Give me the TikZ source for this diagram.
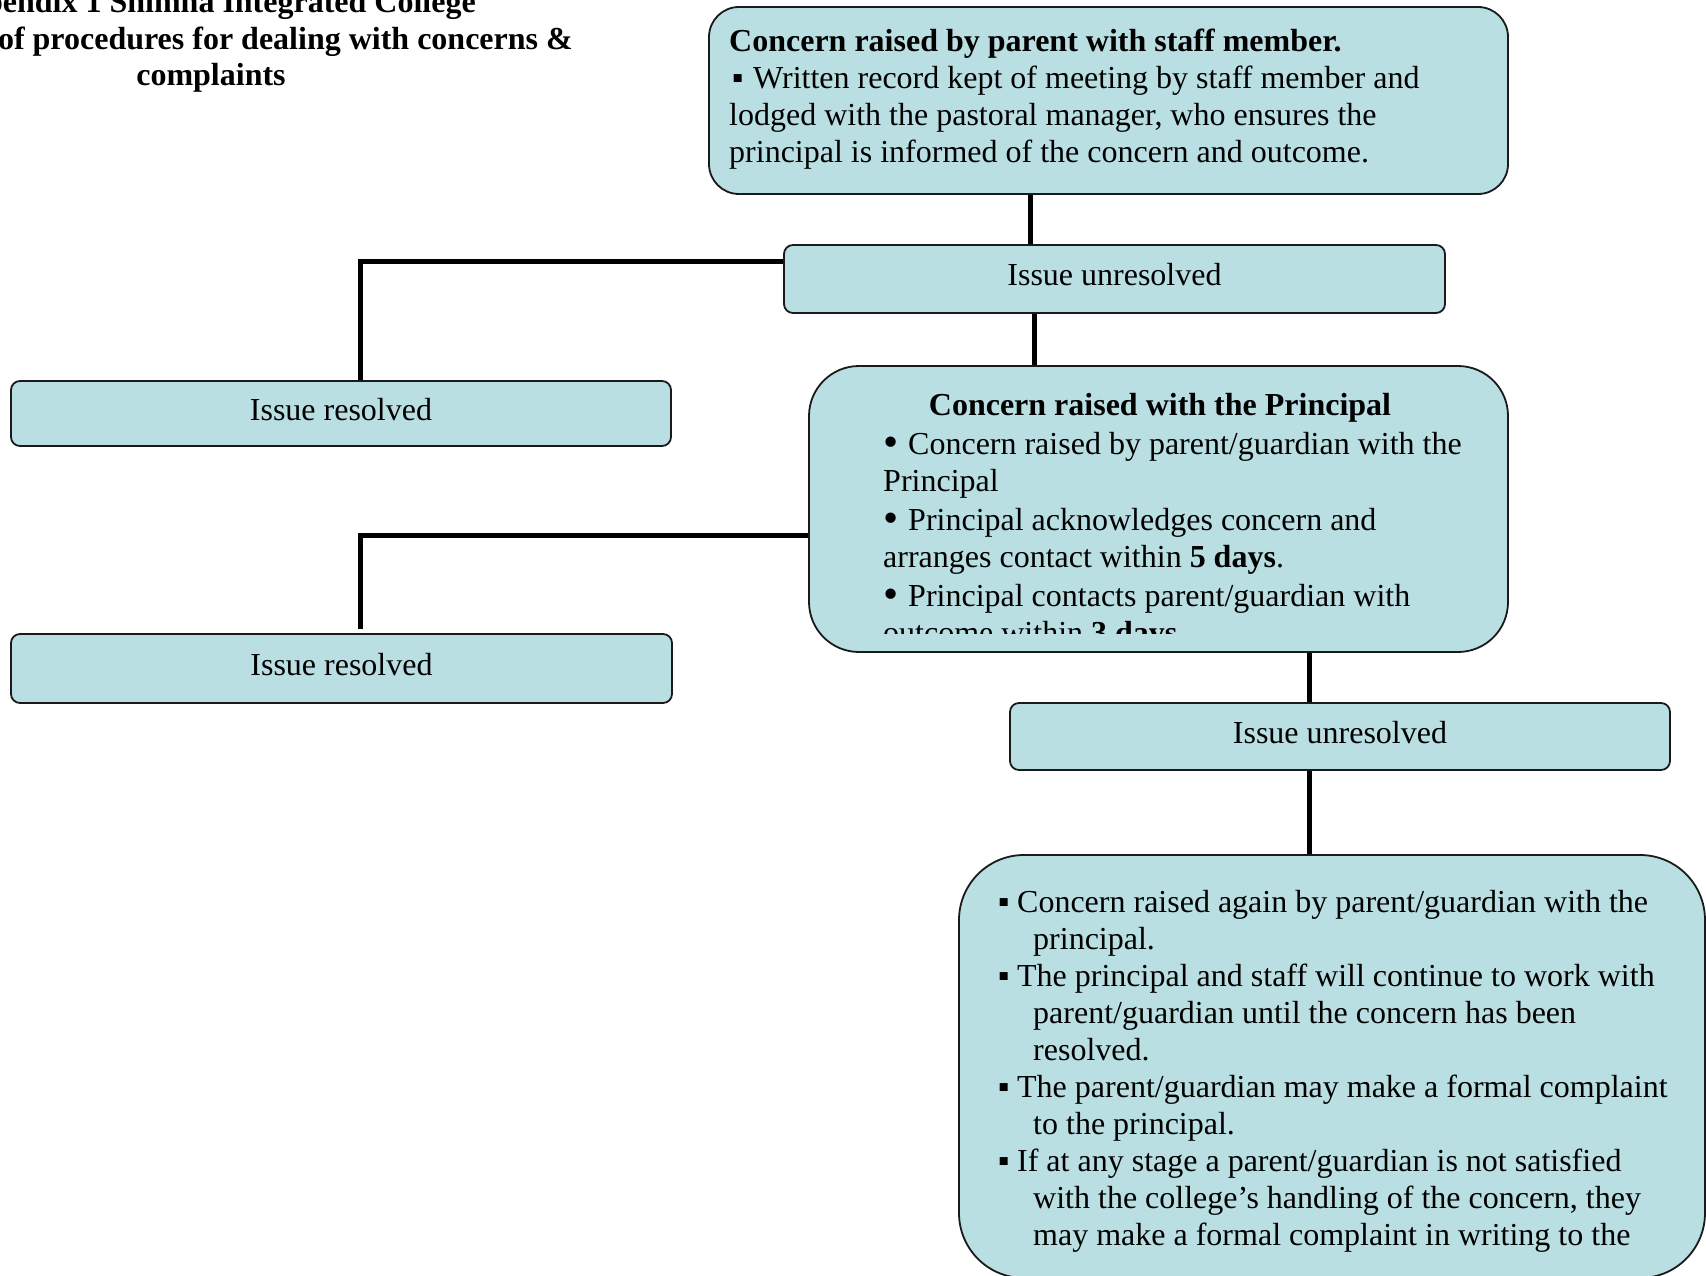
\documentclass[tikz,border=0pt]{standalone}
\usepackage{fontspec}
\usepackage{graphicx}
\setmainfont{Liberation Serif}
\definecolor{boxfill}{HTML}{B9DFE3}
\definecolor{boxline}{HTML}{1A1A1A}
\newcommand{\bigbul}{\raisebox{-2.5pt}{\scalebox{1.35}{•}}}
\begin{document}
\begin{tikzpicture}[x=1pt,y=-1pt,
  box/.style={draw=boxline, line width=1.8pt, fill=boxfill, rounded corners=#1,
    inner sep=0pt, font=\fontsize{32}{37}\selectfont, text height=13pt, text depth=0pt},
  box/.default=9pt,
  txt/.style={inner sep=0pt, align=left, font=\fontsize{32}{37}\selectfont},
  ttl/.style={inner sep=0pt, font=\fontsize{32}{37}\selectfont\bfseries},
  conn/.style={line width=5pt, draw=black}]
\useasboundingbox (0,0) rectangle (1706,1276);

% title
\node[ttl, anchor=base] (t1) at (210,12.5) {Appendix 1 Shimna Integrated College};
\node[ttl, anchor=base east] (t2) at (573,49.3) {of procedures for dealing with concerns \&};
\node[ttl, anchor=base] (t3) at (211,86) {complaints};

% boxes
\node[box=30pt, minimum width=799pt, minimum height=187pt] (top) at (1108.5,100.5) {};
\node[box, minimum width=661pt, minimum height=68pt] (un1) at (1114.5,279) {Issue unresolved};
\node[box, minimum width=660pt, minimum height=65pt] (res1) at (341,413.5) {Issue resolved};
\node[box=50pt, minimum width=699pt, minimum height=286pt] (prin) at (1158.5,509) {};
\node[box, minimum width=661pt, minimum height=69pt] (res2) at (341.5,668.5) {Issue resolved};
\node[box, minimum width=660pt, minimum height=67pt] (un2) at (1340,736.5) {Issue unresolved};
\node[box=65pt, minimum width=746pt, minimum height=423pt] (bot) at (1332,1066.5) {};

% box texts
\node[txt, anchor=north west] (toptext) at (729,25.6) {\strut\textbf{Concern raised by parent with staff member.}\\
\makebox[24pt][l]{\hspace{3pt}▪}Written record kept of meeting by staff member and\\
lodged with the pastoral manager, who ensures the\\
principal is informed of the concern and outcome.};

\node[txt, anchor=base, font=\fontsize{32}{37}\selectfont\bfseries] (ptitle) at (1160,415) {Concern raised with the Principal};
\begin{scope}
\clip (809,366) rectangle (1508,633);
\node[txt, anchor=north west] (ptext) at (883,428.1) {\strut\makebox[25pt][l]{\bigbul}Concern raised by parent/guardian with the\\
Principal\\[2pt]
\makebox[25pt][l]{\bigbul}Principal acknowledges concern and\\
arranges contact within \textbf{5 days}.\\[2pt]
\makebox[25pt][l]{\bigbul}Principal contacts parent/guardian with\\
outcome within \textbf{3 days}.};
\end{scope}

\node[txt, anchor=north west] (bottext) at (998,886.5) {\strut\makebox[19pt][l]{▪}Concern raised again by parent/guardian with the\\
\hspace*{35pt}principal.\\
\makebox[19pt][l]{▪}The principal and staff will continue to work with\\
\hspace*{35pt}parent/guardian until the concern has been\\
\hspace*{35pt}resolved.\\
\makebox[19pt][l]{▪}The parent/guardian may make a formal complaint\\
\hspace*{35pt}to the principal.\\
\makebox[19pt][l]{▪}If at any stage a parent/guardian is not satisfied\\
\hspace*{35pt}with the college’s handling of the concern, they\\
\hspace*{35pt}may make a formal complaint in writing to the};

% connectors
\coordinate (x1) at (1030,0);
\coordinate (x2) at (1034,0);
\coordinate (x3) at (1309,0);
\coordinate (j1) at (360,262);
\coordinate (j2) at (360,535);
\coordinate (j2end) at (360,629);
\draw[conn] (top.south -| x1) -- (un1.north -| x1);
\draw[conn] (un1.south -| x2) -- (prin.north -| x2);
\draw[conn] (un1.west |- j1) -| (res1.north -| j1);
\draw[conn] (prin.west |- j2) -| (j2end);
\draw[conn] (prin.south -| x3) -- (un2.north -| x3);
\draw[conn] (un2.south -| x3) -- (bot.north -| x3);
\end{tikzpicture}
\end{document}
